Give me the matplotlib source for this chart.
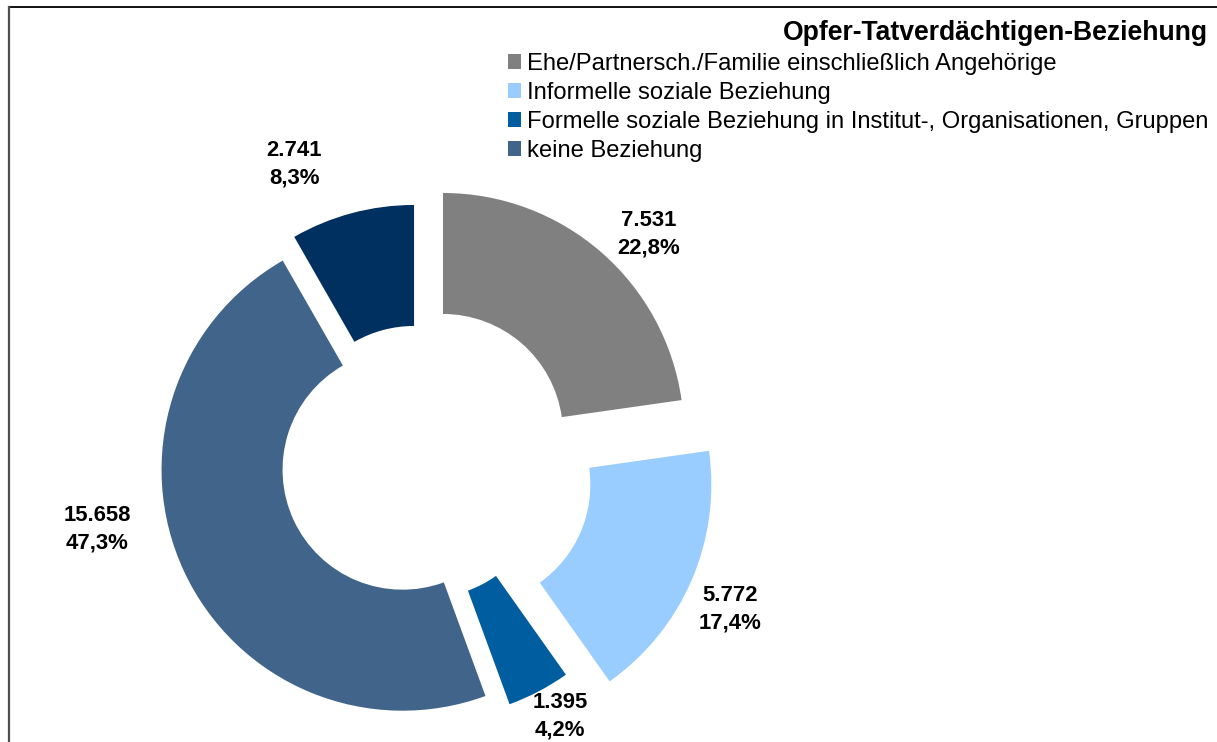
import matplotlib
matplotlib.use("Agg")
import matplotlib.pyplot as plt
from matplotlib.lines import Line2D
from matplotlib.patches import Patch

plt.rcParams['font.family'] = ['Liberation Sans', 'DejaVu Sans']

# Daten
categories = ["Ehe/Partnersch./Familie einschließlich Angehörige",
              "Informelle soziale Beziehung",
              "Formelle soziale Beziehung in Institut-, Organisationen, Gruppen",
              "keine Beziehung",
              "ungeklärt"]
values = [7531, 5772, 1395, 15658, 2741]
colors = ["#808080", "#99CCFF", "#005DA0", "#41648A", "#003060"]
legend_title = "Opfer-Tatverdächtigen-Beziehung"

W, H = 1217, 742
fig = plt.figure(figsize=(W / 100, H / 100), dpi=100)
ax = fig.add_axes([0, 0, 1, 1])

# Geometrie in Pixeln (y von unten)
cx, cy = 418.4, H - 462.3
R = 241
explode = [37.5, 56.6, 17.7, 17.5, 16.9]

wedges, _ = ax.pie(values, colors=colors, startangle=90, counterclock=False,
                   radius=R, center=(cx, cy), explode=explode,
                   wedgeprops=dict(width=121, linewidth=0))
ax.set_xlim(0, W)
ax.set_ylim(0, H)
ax.set_aspect('equal')
ax.axis('off')

# Datenbeschriftungen
total = sum(values)
label_pos = [(648.5, 234), (730, 609), (560, 716.5), (97, 529), (294, 164)]
for v, (px, py) in zip(values, label_pos):
    txt = f"{v:,}".replace(",", ".") + "\n" + f"{v / total * 100:.1f}%".replace(".", ",")
    ax.text(px, H - py, txt, ha='center', va='center', fontsize=15.9,
            fontweight='bold', linespacing=1.42)

# Legende (nur vier Einträge sichtbar)
handles = [Patch(facecolor=c, edgecolor='none') for c in colors[:4]]
leg = ax.legend(handles, categories[:4], title=legend_title,
                loc='upper right', bbox_to_anchor=(1208 / W, 1 - 20 / H),
                frameon=False, fontsize=17.1, title_fontproperties={'weight': 'bold', 'size': 19.1},
                alignment='right', handlelength=0.55, handleheight=0.6,
                handletextpad=0.25, labelspacing=0.29, borderpad=0, borderaxespad=0)

# Rahmen
fig.add_artist(Line2D([9 / W, 1.2], [1 - 7 / H, 1 - 7 / H], transform=fig.transFigure,
                      color='black', linewidth=1.3))
fig.add_artist(Line2D([9 / W, 9 / W], [-0.1, 1 - 7 / H], transform=fig.transFigure,
                      color='#505050', linewidth=1.6))

fig.savefig("out.png", dpi=100)
